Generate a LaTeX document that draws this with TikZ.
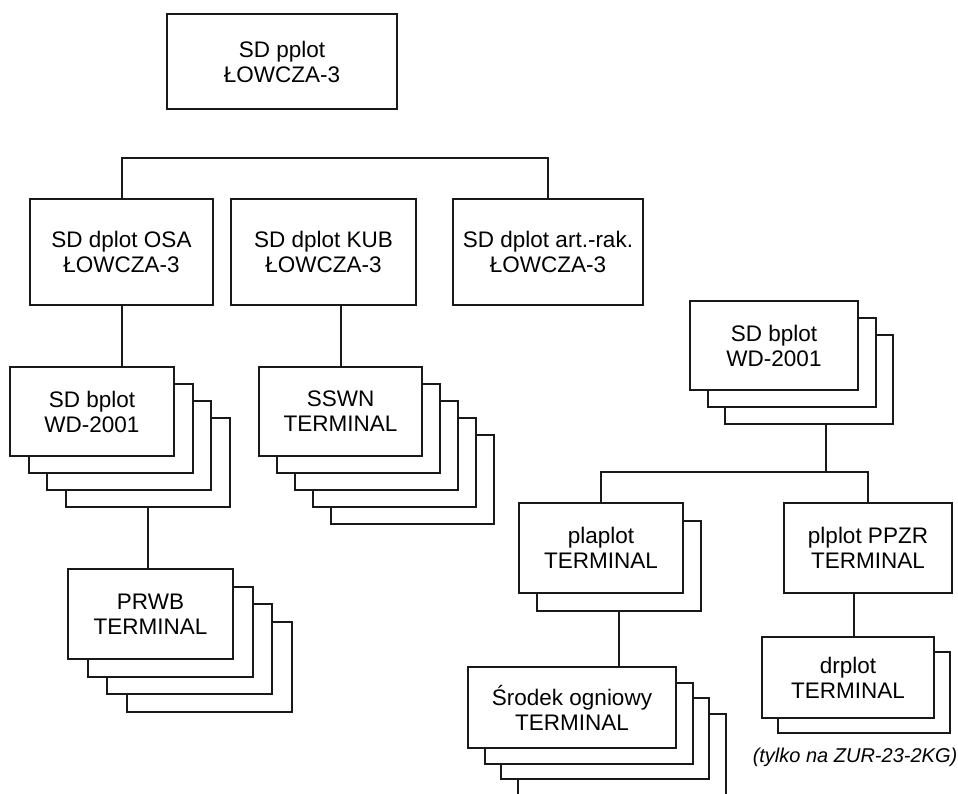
\documentclass[tikz,border=0pt]{standalone}
\usepackage{fontspec}
\setmainfont{Liberation Sans}

\tikzset{
	box/.style={draw=black!90, line width=2pt, fill=white, align=center,
		inner sep=0pt, font=\fontsize{22.5}{25}\selectfont},
	link/.style={draw=black!90, line width=2pt},
}

% sheets lying behind a front box: name, centre, count, dx, dy, size
\newcommand{\sheets}[6]{%
	\foreach \k in {#3,...,1}
		\node[box,#6] (#1\k) at ([shift={(\k*#4,\k*#5)}]#2) {};
}

\begin{document}
\begin{tikzpicture}[x=1pt,y=-1pt]
	\useasboundingbox (0,0) rectangle (958,793);
	\clip (0,0) rectangle (958,793);

	\node[box, minimum width=230, minimum height=95] (pplot) at (282,61.5) {SD pplot\\ŁOWCZA-3};

	\begin{scope}[every node/.append style={minimum width=185, minimum height=106}]
		\node[box, minimum width=183] (osa) at (121.5,252) {SD dplot OSA\\ŁOWCZA-3};
		\node[box] (kub) at (323.5,252) {SD dplot KUB\\ŁOWCZA-3};
		\node[box, minimum width=190] (art) at (548,252) {SD dplot art.-rak.\\ŁOWCZA-3};
	\end{scope}

	% stacks of terminals
	\sheets{bplotA}{92,411.5}{3}{18.7}{17}{minimum width=164, minimum height=89}
	\node[box, minimum width=164, minimum height=89] (bplotA) at (92,411.5) {SD bplot\\WD-2001};

	\sheets{sswn}{340.5,411.5}{4}{18}{17}{minimum width=163, minimum height=89}
	\node[box, minimum width=163, minimum height=89] (sswn) at (340.5,411.5) {SSWN\\TERMINAL};

	\sheets{prwb}{150.5,614}{3}{19.5}{17.5}{minimum width=165, minimum height=90}
	\node[box, minimum width=165, minimum height=90] (prwb) at (150.5,614) {PRWB\\TERMINAL};

	\sheets{bplotB}{774,345.5}{2}{17.5}{17}{minimum width=168, minimum height=89}
	\node[box, minimum width=168, minimum height=89] (bplotB) at (774,345.5) {SD bplot\\WD-2001};

	\sheets{plaplot}{601,548}{1}{18}{18}{minimum width=164, minimum height=90}
	\node[box, minimum width=164, minimum height=90] (plaplot) at (601,548) {plaplot\\TERMINAL};

	\node[box, minimum width=168, minimum height=90] (ppzr) at (868,548) {plplot PPZR\\TERMINAL};

	\sheets{srodek}{572,707.5}{3}{16.5}{15.5}{minimum width=208, minimum height=81}
	\node[box, minimum width=208, minimum height=81] (srodek) at (572,707.5) {Środek ogniowy\\TERMINAL};

	\sheets{drplot}{848,677.5}{1}{16}{15}{minimum width=172, minimum height=81}
	\node[box, minimum width=172, minimum height=81] (drplot) at (848,677.5) {drplot\\TERMINAL};

	\node[font=\fontsize{20}{24}\selectfont\itshape] (note) at (855,757) {(tylko na ZUR-23-2KG)};

	% connections
	\draw[link] (osa.north) -- ++(0,-40) -| (art.north);
	\draw[link] (osa.south) -- (osa.south |- bplotA.north);
	\draw[link] (sswn.north |- kub.south) -- (sswn.north);
	\draw[link] (bplotA3.south) -- (bplotA3.south |- prwb.north);

	\coordinate (fork) at (826,472);
	\draw[link] (fork |- bplotB2.south) -- (fork);
	\draw[link] (plaplot.north) |- (fork) -| (ppzr.north);
	\draw[link] (plaplot1.south) -- (plaplot1.south |- srodek.north);
	\draw[link] ([xshift=-14pt]ppzr.south) -- ([xshift=-14pt]ppzr.south |- drplot.north);
\end{tikzpicture}
\end{document}
